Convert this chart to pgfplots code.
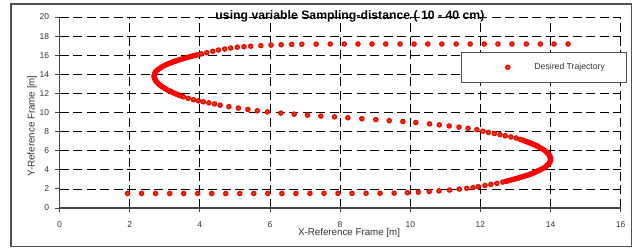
\documentclass[border=0pt]{standalone}
\usepackage{fontspec}
\setmainfont{Liberation Sans}
\usepackage{pgfplots}
\pgfplotsset{compat=1.18}
\definecolor{tickgray}{HTML}{333333}
\definecolor{axgray}{HTML}{444444}
\definecolor{brdgray}{HTML}{505050}
\pgfdeclareplotmark{rg}{%
  \pgfpathcircle{\pgfpointorigin}{2.8bp}%
  \pgfsetfillcolor{red}\pgfusepathqfill
  \pgfpathcircle{\pgfpointorigin}{0.75bp}%
  \pgfsetfillcolor{green}\pgfusepathqfill}
\pgfplotstableread{
x y
1.94 1.52
2.34 1.52
2.74 1.52
3.14 1.52
3.54 1.52
3.94 1.52
4.34 1.52
4.74 1.52
5.14 1.52
5.54 1.52
5.94 1.52
6.34 1.52
6.74 1.52
7.14 1.53
7.54 1.53
7.94 1.53
8.34 1.53
8.74 1.54
9.14 1.54
9.54 1.55
9.92 1.60
10.23 1.66
10.54 1.72
10.82 1.79
11.12 1.88
11.40 1.98
11.61 2.06
11.79 2.14
11.94 2.23
12.13 2.36
12.30 2.47
12.47 2.58
12.64 2.72
12.73 2.80
12.785 2.85
12.84 2.90
12.89 2.95
12.94 3.00
12.99 3.05
13.04 3.10
13.09 3.15
13.13 3.20
13.18 3.25
13.22 3.30
13.265 3.35
13.31 3.40
13.35 3.45
13.39 3.50
13.42 3.55
13.46 3.60
13.50 3.65
13.53 3.70
13.56 3.75
13.59 3.80
13.625 3.85
13.65 3.90
13.68 3.95
13.71 4.00
13.76 4.10
13.81 4.20
13.85 4.30
13.88 4.40
13.91 4.50
13.94 4.60
13.96 4.70
13.98 4.80
13.99 4.90
14.00 5.00
14.00 5.10
14.00 5.20
13.99 5.30
13.98 5.40
13.97 5.50
13.95 5.60
13.93 5.70
13.90 5.80
13.87 5.90
13.84 6.00
13.80 6.10
13.76 6.20
13.71 6.30
13.66 6.40
13.64 6.45
13.61 6.50
13.58 6.55
13.55 6.60
13.52 6.65
13.49 6.70
13.46 6.75
13.42 6.80
13.39 6.85
13.35 6.90
13.32 6.95
13.28 7.00
13.24 7.05
13.20 7.10
13.13 7.19
13.02 7.33
12.87 7.44
12.71 7.56
12.56 7.68
12.40 7.80
12.23 7.92
12.07 8.04
11.90 8.20
11.65 8.34
11.39 8.47
11.11 8.59
10.83 8.71
10.55 8.81
10.16 8.95
9.79 9.06
9.40 9.15
9.02 9.25
8.62 9.35
8.22 9.45
7.84 9.54
7.45 9.63
7.07 9.73
6.69 9.83
6.31 9.94
5.93 10.06
5.64 10.18
5.37 10.32
5.10 10.46
4.83 10.61
4.58 10.77
4.42 10.90
4.26 11.01
4.10 11.12
3.96 11.22
3.82 11.34
3.67 11.48
3.53 11.65
3.45 11.75
3.42 11.80
3.36 11.88
3.31 11.96
3.26 12.04
3.21 12.12
3.17 12.20
3.12 12.28
3.08 12.36
3.04 12.44
3.00 12.52
2.97 12.60
2.93 12.70
2.89 12.80
2.85 12.90
2.82 13.00
2.80 13.10
2.77 13.20
2.75 13.30
2.73 13.40
2.72 13.50
2.71 13.60
2.70 13.70
2.70 13.80
2.70 13.90
2.71 14.00
2.72 14.10
2.73 14.20
2.75 14.30
2.78 14.40
2.81 14.50
2.85 14.60
2.89 14.70
2.93 14.80
2.98 14.90
3.04 15.00
3.07 15.05
3.10 15.10
3.14 15.15
3.17 15.20
3.21 15.25
3.24 15.30
3.28 15.35
3.32 15.40
3.36 15.45
3.40 15.50
3.45 15.55
3.49 15.60
3.54 15.65
3.58 15.70
3.63 15.75
3.68 15.80
3.73 15.85
3.78 15.90
3.84 15.95
3.89 16.00
3.95 16.05
4.04 16.13
4.20 16.26
4.37 16.41
4.53 16.54
4.71 16.65
4.88 16.75
5.07 16.84
5.26 16.89
5.45 16.94
5.74 17.00
6.03 17.06
6.32 17.10
6.62 17.13
6.91 17.15
7.32 17.16
7.72 17.17
8.12 17.17
8.51 17.17
8.91 17.17
9.30 17.17
9.71 17.17
10.11 17.17
10.50 17.17
10.90 17.17
11.31 17.17
11.71 17.17
12.11 17.17
12.50 17.17
12.90 17.17
13.31 17.17
13.71 17.17
14.10 17.17
14.50 17.17
}\traj
\begin{document}
\begin{tikzpicture}
\useasboundingbox (0,0) rectangle (637bp,248bp);
\fill[white] (0,0) rectangle (637bp,248bp);
\draw[brdgray, line width=1.6bp] (10.7bp,1.5bp) rectangle (631.3bp,244bp);
\begin{axis}[
  at={(59.5bp,40bp)}, anchor=south west,
  width=561.2bp, height=191bp, scale only axis,
  xmin=0, xmax=16, ymin=0, ymax=20,
  clip=false,
  xtick={0,2,...,16}, ytick={0,2,...,20},
  axis x line=bottom, axis y line=left,
  axis line style={-, axgray, line width=1.1bp},
  tick align=outside, major tick length=4bp,
  tick style={axgray, line width=0.9bp},
  grid=major,
  major grid style={black, line width=0.7bp, dash pattern=on 9bp off 4.5bp},
  /pgf/number format/assume math mode=true,
  ticklabel style={font=\fontsize{8.5}{10}\selectfont, text=tickgray},
  xticklabel style={yshift=-6bp},
  yticklabel style={xshift=-3bp},
  xlabel={X-Reference Frame [m]},
  ylabel={Y-Reference Frame [m]},
  xlabel style={at={(axis description cs:0.516,-0.131)}, anchor=center, font=\fontsize{9.8}{11.5}\selectfont, text=tickgray},
  ylabel style={at={(axis description cs:-0.049,0.43)}, anchor=center, font=\fontsize{9.8}{11.5}\selectfont, text=tickgray},
  legend style={at={(axis cs:11.45,16.37)}, anchor=north west,
    draw=brdgray, line width=1.3bp, fill=white,
    inner xsep=0pt, inner ysep=0pt,
    nodes={inner sep=0pt, font=\fontsize{8.7}{10}\selectfont, text=tickgray}},
  legend image code/.code={\pgfpathrectangle{\pgfpoint{-46bp}{-15bp}}{\pgfpoint{72.7bp}{30bp}}\pgfusepath{use as bounding box}\pgfuseplotmark{rg}},
]
\addplot[only marks, mark=rg] table[x=x,y=y] {\traj};
\addlegendentry{\makebox[92bp][l]{Desired Trajectory}}
\node[font=\bfseries\fontsize{12.3}{14}\selectfont, anchor=center] at (axis description cs:0.5176,1.005) {using variable Sampling-distance ( 10 - 40 cm)};
\end{axis}
\end{tikzpicture}
\end{document}
